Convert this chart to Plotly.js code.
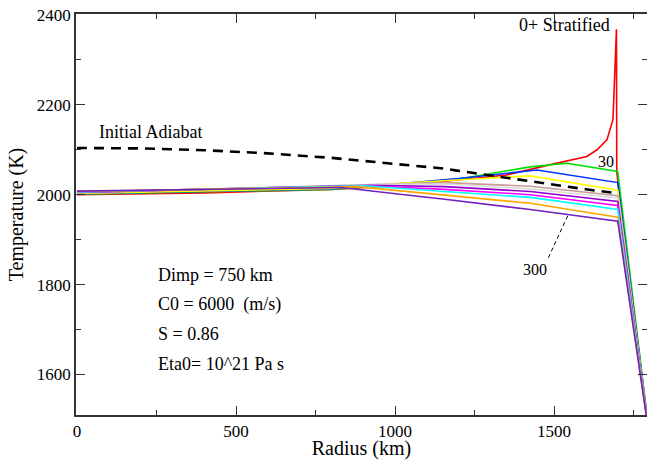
<!DOCTYPE html>
<html>
<head>
<meta charset="utf-8">
<script src="https://cdn.plot.ly/plotly-3.0.1.min.js"></script>
</head>
<body style="margin:0">
<div id="chart"></div>
<script>
// Initial adiabat
const adiabatR = [0, 200, 400, 600, 800, 1000, 1156, 1200, 1400, 1425, 1600, 1700];
const adiabatT = [2104, 2103, 2099, 2092, 2082, 2069, 2058, 2053, 2034, 2030, 2012, 2003];

// Time series (0+ ... 300)
const seriesNames = ["0+", "30", "60", "90", "120", "150", "180", "210", "240", "270", "300"];
const seriesColors = ["#ff0000", "#00e000", "#0033ff", "#ffff00", "#c89a9a", "#dcdcdc", "#9400d3", "#ff00ff", "#00ffff", "#ffa500", "#7221bc"];

const rRed = [0, 400, 800, 1000, 1156, 1351, 1488, 1603, 1635, 1666, 1685, 1693, 1696, 1697, 1800];
const tRed = [2000, 2004, 2012, 2020, 2030, 2044, 2067, 2085, 2100, 2122, 2167, 2300, 2368, 2050, 1460];

const rGreen = [0, 800, 1000, 1200, 1425, 1540, 1700, 1800];
const tGreen = [2001, 2012, 2022, 2035, 2062, 2070, 2052, 1460];

const rBlue = [0, 800, 1000, 1200, 1446, 1700, 1800];
const tBlue = [2002, 2013, 2024, 2036, 2055, 2027, 1460];

const rYellow = [0, 800, 1000, 1200, 1425, 1700, 1800];
const tYellow = [2003, 2014, 2025, 2033, 2042, 2010, 1460];

const rBrown = [0, 1000, 1156, 1425, 1700, 1800];
const tBrown = [2004, 2025, 2027, 2019, 1998, 1460];

const rGrey = [0, 950, 1156, 1425, 1700, 1800];
const tGrey = [2005, 2023, 2024, 2013, 1993, 1460];

const rViolet = [0, 920, 1156, 1425, 1700, 1800];
const tViolet = [2005, 2021, 2018, 2007, 1985, 1460];

const rMagenta = [0, 900, 1156, 1425, 1700, 1800];
const tMagenta = [2006, 2020, 2012, 2000, 1976, 1460];

const rCyan = [0, 900, 1156, 1425, 1700, 1800];
const tCyan = [2006, 2020, 2007, 1994, 1967, 1460];

const rOrange = [0, 880, 1156, 1425, 1700, 1800];
const tOrange = [2007, 2018, 1999, 1981, 1950, 1460];

const rIndigo = [0, 830, 1016, 1156, 1425, 1700, 1800];
const tIndigo = [2008, 2016, 2001, 1990, 1967, 1941, 1460];

const seriesR = [rRed, rGreen, rBlue, rYellow, rBrown, rGrey, rViolet, rMagenta, rCyan, rOrange, rIndigo];
const seriesT = [tRed, tGreen, tBlue, tYellow, tBrown, tGrey, tViolet, tMagenta, tCyan, tOrange, tIndigo];

const xTicks = [0, 500, 1000, 1500];
const yTicks = [1600, 1800, 2000, 2200, 2400];

const paramLines = ["Dimp = 750 km", "C0 = 6000  (m/s)", "S = 0.86", "Eta0= 10^21 Pa s"];

const traces = [];
for (let i = 0; i < seriesR.length; i++) {
  traces.push({
    x: seriesR[i], y: seriesT[i], mode: "lines", name: seriesNames[i],
    line: {color: seriesColors[i], width: 1.6}, hoverinfo: "skip"
  });
}
traces.push({
  x: adiabatR, y: adiabatT, mode: "lines", name: "Initial Adiabat",
  line: {color: "#000", width: 2.6, dash: "10px,7px"}, hoverinfo: "skip"
});

const FAM = "serif";
const annotations = [
  {x: 64, y: 2140, xref: "x", yref: "y", text: "Initial Adiabat", showarrow: false, xanchor: "left", yanchor: "middle", font: {family: FAM, size: 18, color: "#000"}},
  {x: 1682, y: 2377, xref: "x", yref: "y", text: "0+ Stratified", showarrow: false, xanchor: "right", yanchor: "middle", font: {family: FAM, size: 18, color: "#000"}},
  {x: 1662, y: 2075, xref: "x", yref: "y", text: "30", showarrow: false, xanchor: "center", yanchor: "middle", font: {family: FAM, size: 16, color: "#000"}},
  {x: 1440, y: 1833, xref: "x", yref: "y", text: "300", showarrow: false, xanchor: "center", yanchor: "middle", font: {family: FAM, size: 16, color: "#000"}}
];
const paramY = [1822, 1756, 1691, 1624];
paramLines.forEach((t, i) => annotations.push({
  x: 248, y: paramY[i], xref: "x", yref: "y", text: t, showarrow: false, xanchor: "left", yanchor: "middle",
  font: {family: FAM, size: 18, color: "#000"}
}));

function axisBase() {
  return {
    showgrid: false, zeroline: false, showline: true, linecolor: "#333", linewidth: 1.5,
    mirror: "ticks", ticks: "inside", ticklen: 9, tickwidth: 1.2, tickcolor: "#333",
    tickfont: {family: FAM, size: 17, color: "#000"}
  };
}

const xaxis = axisBase();
xaxis.range = [-3, 1792];
xaxis.tickvals = xTicks;
xaxis.ticktext = xTicks.map(String);
xaxis.minor = {ticks: "inside", ticklen: 5, tickwidth: 1.2, tickcolor: "#333", dtick: 250, tick0: 0};
xaxis.title = {text: "Radius (km)", font: {family: FAM, size: 20, color: "#000"}, standoff: 0};

const yaxis = axisBase();
yaxis.range = [1510, 2402];
yaxis.tickvals = yTicks;
yaxis.ticktext = yTicks.map(String);
yaxis.minor = {ticks: "inside", ticklen: 5, tickwidth: 1.2, tickcolor: "#333", dtick: 100, tick0: 0};
yaxis.title = {text: "Temperature (K)", font: {family: FAM, size: 20, color: "#000"}, standoff: 8};

const layout = {
  width: 647, height: 460,
  margin: {l: 76, r: 0, t: 14, b: 45},
  paper_bgcolor: "#fff", plot_bgcolor: "#fff",
  font: {family: FAM, color: "#000"},
  showlegend: false,
  xaxis: xaxis,
  yaxis: yaxis,
  annotations: annotations,
  shapes: [
    {type: "line", xref: "x", yref: "y", x0: 1482, y0: 1860, x1: 1544, y1: 1955, line: {color: "#000", width: 1, dash: "4px,3px"}}
  ]
};

Plotly.newPlot("chart", traces, layout, {displayModeBar: false});
</script>
</body>
</html>
